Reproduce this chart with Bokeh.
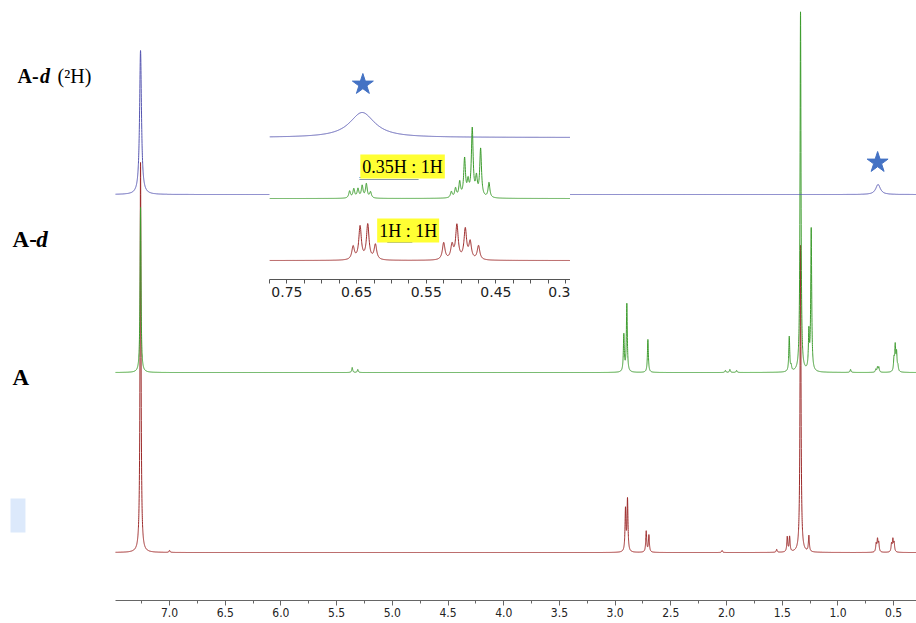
import numpy as np
from bokeh.plotting import figure
from bokeh.models import (Range1d, Label, SingleIntervalTicker, FixedTicker,
                          PrintfTickFormatter, BoxAnnotation)
from bokeh.layouts import column
from bokeh.embed import file_html
from bokeh.resources import INLINE

# ---------------- main spectra: peak tables (ppm, height, half-width) ----------------
blue_ppm = [7.26, 0.64]
blue_height = [144, 10]
blue_hw = [0.010, 0.025]

green_ppm = [7.26, 5.36, 5.31, 2.922, 2.895, 2.706, 2.01, 1.97, 1.91, 1.437, 1.42,
             1.336, 1.261, 1.240, 0.887, 0.66, 0.645, 0.633, 0.497, 0.486, 0.474, 0.462]
green_height = [165, 5, 3, 37, 68, 33, 2, 3, 2, 35, 5,
                360, 37, 142, 3, 3, 5, 5, 12, 25, 18, 5]
green_hw = [0.005] * len(green_ppm)

red_ppm = [7.26, 7.00, 2.907, 2.889, 2.721, 2.697, 2.04, 1.55, 1.455, 1.434,
           1.336, 1.261, 0.657, 0.645, 0.634, 0.519, 0.507, 0.496]
red_height = [390, 2, 42, 52, 21, 17, 2, 3, 15, 15,
              307, 16, 8, 12, 9, 8, 12, 9]
red_hw = [0.005] * len(red_ppm)

# ---------------- inset (0.775 - 0.343 ppm) peak tables ----------------
in_blue_ppm = [0.642]
in_blue_height = [25]
in_blue_hw = [0.022]

in_green_ppm = [0.660, 0.654, 0.648, 0.642, 0.636, 0.630,
                0.514, 0.508, 0.502, 0.495, 0.490, 0.484, 0.478, 0.472, 0.460]
in_green_height = [7, 9, 9, 12, 14, 6,
                   6, 9, 15, 38, 14, 68, 18, 48, 15]
in_green_hw = [0.0015] * len(in_green_ppm)

in_red_ppm = [0.655, 0.645, 0.634, 0.623, 0.525, 0.513, 0.506, 0.494, 0.487, 0.475]
in_red_height = [13, 33, 35, 15, 17, 14, 34, 30, 17, 14]
in_red_hw = [0.0022] * len(in_red_ppm)

x_ticks_inset = [0.75, 0.65, 0.55, 0.45, 0.35]
ratio_texts = ["0.35H : 1H", "1H : 1H"]

BLUE = "#5656b0"
GREEN = "#3d9c2e"
RED = "#9c2a2a"
STAR = "#4472c4"


def spectrum(grid, ppm, height, hw, base):
    y = np.full_like(grid, float(base))
    for c, h, w in zip(ppm, height, hw):
        y += h * w * w / ((grid - c) ** 2 + w * w)
    return y


# ---------------- main figure ----------------
p = figure(width=916, height=623, x_range=Range1d(8.517, 0.295), y_range=Range1d(0, 600),
           output_backend="svg", toolbar_location=None, y_axis_location=None,
           min_border_left=0, min_border_right=0, min_border_top=0, min_border_bottom=23)
p.outline_line_color = None
p.xgrid.visible = False
p.ygrid.visible = False
p.background_fill_color = "white"
p.border_fill_color = "white"

ax = p.xaxis[0]
ax.bounds = (0.295, 7.485)
ax.ticker = SingleIntervalTicker(interval=0.5, num_minor_ticks=2)
ax.formatter = PrintfTickFormatter(format="%.1f")
ax.axis_line_color = "#666666"
ax.major_tick_line_color = "#666666"
ax.minor_tick_line_color = "#666666"
ax.major_tick_out = 5
ax.major_tick_in = 0
ax.minor_tick_out = 3
ax.minor_tick_in = 0
ax.major_label_standoff = 2
ax.major_label_text_font = "DejaVu Sans Condensed"
ax.major_label_text_font_size = "12px"
ax.major_label_text_color = "#222222"

grid_main = np.arange(7.485, 0.295, -0.0005)
base_blue, base_green, base_red = 406, 228, 48
p.line(grid_main, spectrum(grid_main, red_ppm, red_height, red_hw, base_red),
       line_color=RED, line_width=1)
p.line(grid_main, spectrum(grid_main, green_ppm, green_height, green_hw, base_green),
       line_color=GREEN, line_width=1)
p.line(grid_main, spectrum(grid_main, blue_ppm, blue_height, blue_hw, base_blue),
       line_color=BLUE, line_width=1)
p.scatter([0.644], [438], marker="star", size=22, fill_color=STAR, line_color=STAR)

p.add_layout(BoxAnnotation(left=8.427, right=8.293, bottom=68, top=102,
                           fill_color="#dce9fb", fill_alpha=1, line_color=None))

serif = "Liberation Serif"
INK = "#000000"
# "A-d (²H)"
p.add_layout(Label(x=8.364, y=525, text="A-", text_font=serif, text_font_size="20px",
                   text_font_style="bold", text_baseline="middle", text_color=INK))
p.add_layout(Label(x=8.162, y=525, text="d", text_font=serif, text_font_size="20px",
                   text_font_style="bold italic", text_baseline="middle", text_color=INK))
p.add_layout(Label(x=8.005, y=525, text="(²H)", text_font=serif, text_font_size="20px",
                   text_font_style="normal", text_baseline="middle", text_color=INK))
# "A-d"
p.add_layout(Label(x=8.409, y=361, text="A-", text_font=serif, text_font_size="23px",
                   text_font_style="bold", text_baseline="middle", text_color=INK))
p.add_layout(Label(x=8.195, y=361, text="d", text_font=serif, text_font_size="23px",
                   text_font_style="bold italic", text_baseline="middle", text_color=INK))
# "A"
p.add_layout(Label(x=8.409, y=223, text="A", text_font=serif, text_font_size="23px",
                   text_font_style="bold", text_baseline="middle", text_color=INK))

# ---------------- inset figure ----------------
ins = figure(width=301, height=229, x_range=Range1d(0.775, 0.343), y_range=Range1d(0, 209),
             output_backend="svg", toolbar_location=None, y_axis_location=None,
             min_border_left=0, min_border_right=0, min_border_top=0, min_border_bottom=0,
             styles={"position": "absolute", "left": "269px", "top": "70px"})
ins.outline_line_color = None
ins.xgrid.visible = False
ins.ygrid.visible = False
ins.background_fill_color = "white"
ins.border_fill_color = "white"

iax = ins.xaxis[0]
iax.ticker = FixedTicker(ticks=x_ticks_inset,
                         minor_ticks=[0.775, 0.725, 0.70, 0.675, 0.625, 0.60, 0.575,
                                      0.525, 0.50, 0.475, 0.425, 0.40, 0.375])
iax.formatter = PrintfTickFormatter(format="%.2f")
iax.major_label_overrides = {0.35: "0.3"}
iax.axis_line_color = "#555555"
iax.major_tick_line_color = "#555555"
iax.minor_tick_line_color = "#555555"
iax.major_tick_out = 4
iax.major_tick_in = 0
iax.minor_tick_out = 4
iax.minor_tick_in = 0
iax.major_label_standoff = 3
iax.major_label_text_font = "DejaVu Sans"
iax.major_label_text_font_size = "14px"
iax.major_label_text_color = "#222222"

grid_in = np.linspace(0.775, 0.343, 2200)
ins.line(grid_in, spectrum(grid_in, in_blue_ppm, in_blue_height, in_blue_hw, 142),
         line_color=BLUE, line_width=1)
ins.line(grid_in, spectrum(grid_in, in_green_ppm, in_green_height, in_green_hw, 81),
         line_color=GREEN, line_width=1)
ins.line(grid_in, spectrum(grid_in, in_red_ppm, in_red_height, in_red_hw, 19),
         line_color=RED, line_width=1)
ins.scatter([0.641], [195], marker="star", size=22, fill_color=STAR, line_color=STAR)

ins.add_layout(Label(x=0.584, y=113, text=ratio_texts[0], text_font=serif,
                     text_font_size="18px", text_align="center", text_baseline="middle",
                     text_color=INK, background_fill_color="#ffff33", padding=2))
ins.add_layout(Label(x=0.576, y=49, text=ratio_texts[1], text_font=serif,
                     text_font_size="18px", text_align="center", text_baseline="middle",
                     text_color=INK, background_fill_color="#ffff33", padding=2))
ins.segment(x0=[0.646, 0.646], y0=[102, 100], x1=[0.561, 0.561], y1=[102, 100],
            line_color=["#5b9bd5", "#8a9aa8"], line_width=1)
ins.segment(x0=[0.606, 0.606], y0=[39, 37], x1=[0.570, 0.570], y1=[39, 37],
            line_color=["#5b9bd5", "#8a9aa8"], line_width=1)

layout = column(p, ins)
open("out.html", "w").write(file_html(layout, INLINE))
